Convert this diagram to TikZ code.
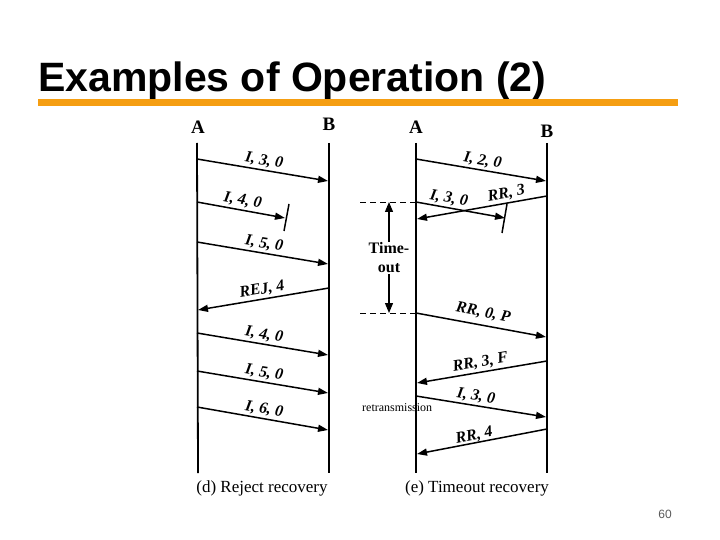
\documentclass[tikz,border=0pt]{standalone}
\usepackage{fontspec}
\setmainfont{Liberation Serif}
\setsansfont{Liberation Sans}
\usetikzlibrary{arrows.meta, positioning}

\definecolor{barorange}{RGB}{245,158,18}
\definecolor{pagegray}{RGB}{90,90,90}

\begin{document}
\begin{tikzpicture}[
    x=1pt, y=-1pt,
    station/.style={font=\fontsize{19}{19}\selectfont\bfseries, inner sep=0pt, anchor=base},
    lifeline/.style={line width=1.8pt},
    frame/.style={-{Triangle[length=10pt, width=7pt]}, line width=1.5pt},
    lost/.style={line width=1.5pt},
    msg/.style={font=\fontsize{16}{16}\selectfont\bfseries\itshape, sloped, above, inner sep=2pt},
    caption/.style={font=\fontsize{17}{17}\selectfont, anchor=base},
    guide/.style={dash pattern=on 6pt off 4pt, line width=0.8pt},
    timer/.style={-{Triangle[length=10pt, width=8pt]}, line width=1.2pt}
]
    \useasboundingbox (0,0) rectangle (720,540);

    % Title
    \node[font=\fontsize{41}{41}\selectfont\sffamily\bfseries, anchor=base west, inner sep=0pt] (title) at (38,92) {Examples of Operation (2)};
    \fill[barorange] (38,99) rectangle (678,106);
    \node[font=\fontsize{12}{12}\selectfont\sffamily, text=pagegray, anchor=base] (page) at (665,518) {60};

    % Stations
    \node[station] (lA) at (198,134) {A};
    \node[station] (lB) at (329,131) {B};
    \node[station] (rA) at (416,134) {A};
    \node[station] (rB) at (547,138) {B};
    \coordinate (bottom) at (0,473);
    \draw[lifeline] (197,143) -- (lA |- bottom);
    \draw[lifeline] (329,143) -- (lB |- bottom);
    \draw[lifeline] (416,143) -- (rA |- bottom);
    \draw[lifeline] (547,143) -- (rB |- bottom);

    % Reject recovery
    \coordinate (d1s) at (197,159); \coordinate (d1e) at (328,181);
    \coordinate (d2s) at (197,202); \coordinate (d2e) at (285,218);
    \coordinate (d3s) at (197,242); \coordinate (d3e) at (328,264);
    \coordinate (d4s) at (329,288); \coordinate (d4e) at (198,310);
    \coordinate (d5s) at (197,333); \coordinate (d5e) at (328,355);
    \coordinate (d6s) at (197,371); \coordinate (d6e) at (328,393);
    \coordinate (d7s) at (197,407); \coordinate (d7e) at (328,430);
    \draw[frame] (d1s) -- node[msg] {I, 3, 0} (d1e);
    \draw[frame] (d2s) -- node[msg] {I, 4, 0} (d2e);
    \draw[lost] (289,204) -- (284,231);
    \draw[frame] (d3s) -- node[msg] {I, 5, 0} (d3e);
    \draw[frame] (d4s) -- node[msg] {REJ, 4} (d4e);
    \draw[frame] (d5s) -- node[msg] {I, 4, 0} (d5e);
    \draw[frame] (d6s) -- node[msg] {I, 5, 0} (d6e);
    \draw[frame] (d7s) -- node[msg] {I, 6, 0} (d7e);
    \node[caption] (dcap) at (262,492) {(d) Reject recovery};

    % Timeout recovery
    \coordinate (e1s) at (416,159); \coordinate (e1e) at (546,181);
    \coordinate (e2s) at (416,202); \coordinate (e2e) at (505,218);
    \coordinate (e3s) at (547,196); \coordinate (e3e) at (417,219);
    \coordinate (e4s) at (416,313); \coordinate (e4e) at (546,337);
    \coordinate (e5s) at (547,361); \coordinate (e5e) at (417,383);
    \coordinate (e6s) at (416,396); \coordinate (e6e) at (546,417);
    \coordinate (e7s) at (547,429); \coordinate (e7e) at (417,454);
    \draw[frame] (e1s) -- node[msg] {I, 2, 0} (e1e);
    \draw[frame] (e2s) -- node[msg, pos=0.35] {I, 3, 0} (e2e);
    \draw[lost] (507,204) -- (502,233);
    \draw[frame] (e3s) -- node[msg, pos=0.3] {RR, 3} (e3e);
    \draw[frame] (e4s) -- node[msg, inner sep=5pt] {RR, 0, P} (e4e);
    \draw[frame] (e5s) -- node[msg] {RR, 3, F} (e5e);
    \draw[frame] (e6s) -- node[msg, pos=0.45, inner sep=2pt] {I, 3, 0} (e6e);
    \draw[frame] (e7s) -- node[msg, pos=0.55, inner sep=0pt] {RR, 4} (e7e);
    \node[caption] (ecap) at (477,492) {(e) Timeout recovery};

    % Timer
    \coordinate (gTop) at (360,202);
    \coordinate (gBot) at (360,313);
    \draw[guide] (gTop) -- (e2s);
    \draw[guide] (gBot) -- (e4s);
    \node[font=\fontsize{16}{19}\selectfont\bfseries, align=center, inner sep=1pt] (timeout) at (389,258) {Time-\\out};
    \draw[timer] (timeout.north) -- (timeout.north |- gTop);
    \draw[timer] (timeout.south) -- (timeout.south |- gBot);
    \node[font=\fontsize{12}{12}\selectfont, anchor=base west, inner sep=0pt] (retrans) at (362,411) {retransmission};
\end{tikzpicture}
\end{document}
